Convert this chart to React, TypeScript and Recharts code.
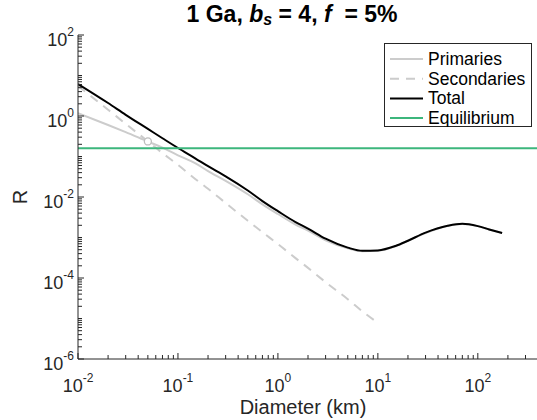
import { LineChart, Line, XAxis, YAxis, ReferenceLine, ReferenceDot, Legend } from 'recharts';

// crater diameters (km)
const diameters = [0.01, 0.02, 0.03, 0.05, 0.07, 0.1, 0.15, 0.2, 0.3, 0.5, 0.7, 1, 1.5, 2, 3, 5, 7, 10, 15, 20, 30, 50, 70, 100, 130, 175];

// R values
const primaries = [1.17, 0.6, 0.4, 0.234, 0.166, 0.107, 0.0676, 0.0437, 0.0251, 0.0117, 0.0066, 0.0038, 0.00209, 0.00148, 0.00085, 0.00054, 0.000457, 0.000468, 0.000603, 0.000832, 0.00129, 0.00195, 0.00214, 0.00191, 0.00158, 0.00129];
const secondaries = [5.5, 1.43, 0.64, 0.237, 0.121, 0.062, 0.0275, 0.016, 0.0071, 0.0026, 0.00135, 0.00069, 0.00031, 0.000178, 0.000079, 0.00003, 0.000015, 0.0000078, null, null, null, null, null, null, null, null];
const total = [6.17, 2.09, 1.07, 0.479, 0.282, 0.162, 0.0891, 0.0575, 0.0324, 0.01445, 0.00794, 0.00447, 0.0024, 0.00166, 0.000933, 0.000562, 0.000468, 0.000479, 0.000617, 0.000832, 0.00132, 0.00195, 0.00219, 0.00191, 0.00158, 0.00129];

const equilibrium = 0.16;
const crossover = { d: 0.05, r: 0.235 };

const xLabeled = [0.01, 0.1, 1, 10, 100];
const yLabeled = [1e-6, 1e-4, 1e-2, 1, 100];

const data = diameters.map((d, i) => ({
  d,
  primaries: primaries[i],
  secondaries: secondaries[i],
  total: total[i],
}));

const font = '"Liberation Sans", Arial, Helvetica, sans-serif';
const axisColor = '#262626';
const grey = '#cccccc';
const green = '#3cb67c';

// minor tick positions (2..9 x each decade)
const logTicks = (lo: number, hi: number, max: number) => {
  const out: number[] = [];
  for (let e = lo; e <= hi; e++) {
    for (let m = 1; m <= 9; m++) {
      const v = m * Math.pow(10, e);
      if (v <= max) out.push(Number(v.toPrecision(6)));
    }
  }
  return out;
};
const xTicks = logTicks(-2, 2, 400);
const yTicks = logTicks(-6, 2, 100);

const isDecade = (v: number) => Math.abs(Math.log10(v) - Math.round(Math.log10(v))) < 1e-6;
const expOf = (v: number) => Math.round(Math.log10(v));
const inList = (list: number[], v: number) => list.some((m) => Math.abs(m - v) / m < 1e-6);

const BottomTick = ({ x, y, payload }: any) => {
  const v = payload.value;
  return (
    <g>
      <line x1={x} x2={x} y1={y} y2={y - (isDecade(v) ? 6 : 4)} stroke={axisColor} />
      {inList(xLabeled, v) && (
        <text x={x} y={y + 33} textAnchor="middle" fontSize={18} fill={axisColor} fontFamily={font}>
          10<tspan dy={-10} fontSize={12}>{expOf(v)}</tspan>
        </text>
      )}
    </g>
  );
};

const TopTick = ({ x, y, payload }: any) => (
  <line x1={x} x2={x} y1={y} y2={y + (isDecade(payload.value) ? 6 : 4)} stroke={axisColor} />
);

const LeftTick = ({ x, y, payload }: any) => {
  const v = payload.value;
  const lab = inList(yLabeled, v);
  return (
    <g>
      <line x1={x} x2={x + (lab ? 6 : 4)} y1={y} y2={y} stroke={axisColor} />
      {lab && (
        <text x={x - 4} y={y + 11} textAnchor="end" fontSize={18} fill={axisColor} fontFamily={font}>
          10<tspan dy={-10} fontSize={12}>{expOf(v)}</tspan>
        </text>
      )}
    </g>
  );
};

const RightTick = ({ x, y, payload }: any) => (
  <line x1={x} x2={x - (inList(yLabeled, payload.value) ? 6 : 4)} y1={y} y2={y} stroke={axisColor} />
);

const legendItems = [
  { name: 'Primaries', color: grey, dash: undefined },
  { name: 'Secondaries', color: grey, dash: '9 7' },
  { name: 'Total', color: '#000000', dash: undefined },
  { name: 'Equilibrium', color: green, dash: undefined },
];

const LegendBox = () => (
  <svg width={148} height={84} style={{ display: 'block' }}>
    <rect x={0.5} y={0.5} width={147} height={83} fill="#fff" stroke={axisColor} />
    {legendItems.map((it, i) => {
      const cy = 16 + i * 19.7;
      return (
        <g key={it.name}>
          <line x1={6} x2={39} y1={cy} y2={cy} stroke={it.color} strokeWidth={2} strokeDasharray={it.dash} />
          <text x={44} y={cy + 6} fontSize={17.5} fontFamily={font} fill="#000">
            {it.name}
          </text>
        </g>
      );
    })}
  </svg>
);

export default function App() {
  return (
    <div style={{ position: 'absolute', left: 0, top: 0, width: 537, height: 420, overflow: 'hidden', background: '#fff' }}>
      <LineChart width={540} height={420} data={data} margin={{ top: 35, right: 2, left: 0, bottom: 0 }}>
        <XAxis
          dataKey="d"
          type="number"
          scale="log"
          domain={[0.01, 400]}
          allowDataOverflow
          ticks={xTicks}
          interval={0}
          tick={<BottomTick />}
          tickLine={false}
          tickSize={0}
          tickMargin={0}
          height={61}
          axisLine={{ stroke: axisColor }}
        />
        <XAxis
          xAxisId="top"
          orientation="top"
          dataKey="d"
          type="number"
          scale="log"
          domain={[0.01, 400]}
          allowDataOverflow
          ticks={xTicks}
          interval={0}
          tick={<TopTick />}
          tickLine={false}
          tickSize={0}
          tickMargin={0}
          height={0}
          axisLine={{ stroke: axisColor }}
        />
        <YAxis
          type="number"
          scale="log"
          domain={[1e-6, 100]}
          allowDataOverflow
          ticks={yTicks}
          interval={0}
          tick={<LeftTick />}
          tickLine={false}
          tickSize={0}
          tickMargin={0}
          width={78}
          axisLine={{ stroke: axisColor }}
        />
        <YAxis
          yAxisId="right"
          orientation="right"
          type="number"
          scale="log"
          domain={[1e-6, 100]}
          allowDataOverflow
          ticks={yTicks}
          interval={0}
          tick={<RightTick />}
          tickLine={false}
          tickSize={0}
          tickMargin={0}
          width={0}
          axisLine={{ stroke: axisColor }}
        />
        <Line dataKey="primaries" type="monotone" stroke={grey} strokeWidth={2} dot={false} isAnimationActive={false} />
        <Line dataKey="secondaries" type="monotone" stroke={grey} strokeWidth={2} strokeDasharray="9 7" dot={false} isAnimationActive={false} />
        <Line dataKey="total" type="monotone" stroke="#000000" strokeWidth={2} dot={false} isAnimationActive={false} />
        <ReferenceLine y={equilibrium} stroke={green} strokeWidth={2} />
        <ReferenceDot x={crossover.d} y={crossover.r} r={3.5} fill="#ffffff" stroke="#bdbdbd" strokeWidth={1.3} />
        <Legend
          layout="vertical"
          align="center"
          verticalAlign="middle"
          wrapperStyle={{ position: 'absolute', left: 384, top: 43, width: 148, height: 84 }}
          content={() => <LegendBox />}
        />
      </LineChart>
      <svg width={537} height={420} style={{ position: 'absolute', left: 0, top: 0, pointerEvents: 'none' }}>
        <text x={292} y={22} textAnchor="middle" fontSize={23} fontWeight="bold" fontFamily={font} fill="#000" style={{ whiteSpace: 'pre' }}>
          1 Ga, <tspan fontStyle="italic">b</tspan>
          <tspan fontStyle="italic" fontSize={16} dy={3}>s</tspan>
          <tspan dy={-3}> = 4, </tspan>
          <tspan fontStyle="italic">f</tspan>
          <tspan>  = 5%</tspan>
        </text>
        <text x={27} y={197} textAnchor="middle" fontSize={20} fontFamily={font} fill={axisColor} transform="rotate(-90 27 197)">
          R
        </text>
        <text x={303} y={414} textAnchor="middle" fontSize={20} fontFamily={font} fill={axisColor}>
          Diameter (km)
        </text>
      </svg>
    </div>
  );
}
